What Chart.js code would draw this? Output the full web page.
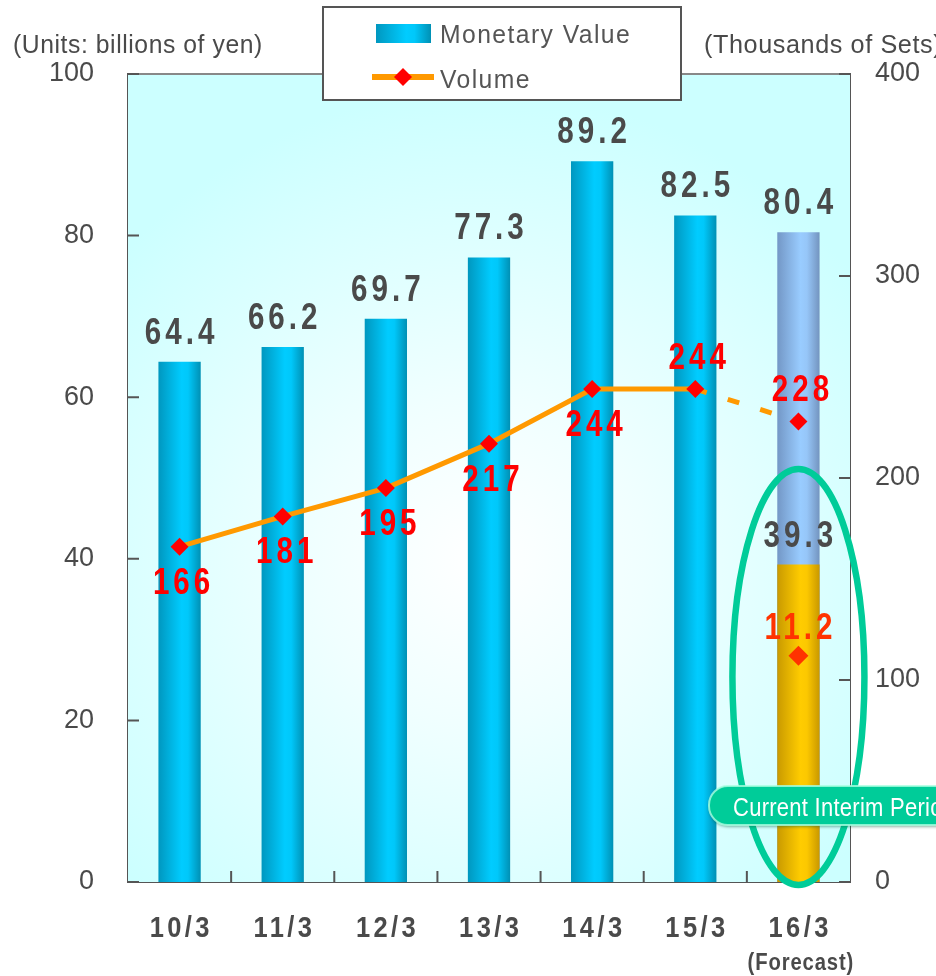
<!DOCTYPE html>
<html>
<head>
<meta charset="utf-8">
<title>Monetary Value and Volume</title>
<script src="https://cdn.jsdelivr.net/npm/chart.js@4.4.1/dist/chart.umd.min.js"></script>
<style>
  html, body { margin: 0; padding: 0; background: #fff; }
  #wrap { width: 936px; height: 976px; position: relative; }
</style>
</head>
<body>
<div id="wrap"><canvas id="chart"></canvas></div>
<script>
// Chart data
const categories = ['10/3', '11/3', '12/3', '13/3', '14/3', '15/3', '16/3'];
const monetaryValue = [64.4, 66.2, 69.7, 77.3, 89.2, 82.5, null];
const forecastValue = [null, null, null, null, null, null, 80.4];
const interimValue = [null, null, null, null, null, null, 39.3];
const volume = [166, 181, 195, 217, 244, 244, 228];
const interimVolume = [null, null, null, null, null, null, 112];
const interimVolumeLabel = '11.2';
// which side of the marker each volume label sits on
const volumeLabelSide = ['below', 'below', 'below', 'below', 'below', 'above', 'above'];
const leftTicks = [0, 20, 40, 60, 80, 100];
const rightTicks = [0, 100, 200, 300, 400];

const BAR_PCT = 0.41;
const GRAY = '#4a4a4a';
const SANS = "'Liberation Sans', Arial, sans-serif";

Chart.defaults.font.family = SANS;

// horizontal gradient across each bar
function barGradient(stops, fallback) {
  return function (ctx) {
    const chart = ctx.chart;
    const area = chart.chartArea;
    if (!area || ctx.dataIndex === undefined) return fallback;
    const cx = chart.scales.x.getPixelForValue(ctx.dataIndex);
    const w = (area.right - area.left) / categories.length * BAR_PCT;
    const g = chart.ctx.createLinearGradient(cx - w / 2, 0, cx + w / 2, 0);
    stops.forEach(function (s) { g.addColorStop(s[0], s[1]); });
    return g;
  };
}

const cyanStops = [[0, '#0097bf'], [0.55, '#00ccff'], [0.7, '#00c8fa'], [1, '#0090b4']];
const blueStops = [[0, '#7397c6'], [0.55, '#99ccff'], [0.7, '#96c6f8'], [1, '#7394bf']];
const goldStops = [[0, '#c99a00'], [0.55, '#ffcc00'], [0.7, '#fcc800'], [1, '#c99800']];

// text with letter spacing and an optional horizontal squeeze
function drawText(ctx, text, x, y, font, color, align, spacing, sx) {
  sx = sx || 1;
  spacing = spacing || 0;
  ctx.save();
  ctx.font = font;
  ctx.fillStyle = color;
  ctx.textAlign = 'left';
  ctx.textBaseline = 'alphabetic';
  ctx.letterSpacing = spacing + 'px';
  const w = (ctx.measureText(text).width - spacing) * sx;
  let left = x;
  if (align === 'center') left = x - w / 2;
  else if (align === 'right') left = x - w;
  ctx.translate(left, y);
  ctx.scale(sx, 1);
  ctx.fillText(text, 0, 0);
  ctx.restore();
}

// plot background, top border and inward tick marks
const backgroundPlugin = {
  id: 'plotBackground',
  beforeDatasetsDraw(chart) {
    const { ctx, chartArea: a, scales } = chart;
    ctx.save();
    const g = ctx.createRadialGradient(480, 560, 0, 480, 560, 470);
    g.addColorStop(0, '#ffffff');
    g.addColorStop(0.35, '#f0ffff');
    g.addColorStop(1, '#ccffff');
    ctx.fillStyle = g;
    ctx.fillRect(a.left, a.top, a.right - a.left, a.bottom - a.top);

    ctx.strokeStyle = '#888';
    ctx.lineWidth = 2;
    ctx.beginPath();
    ctx.moveTo(a.left, a.top);
    ctx.lineTo(a.right, a.top);
    ctx.stroke();

    ctx.strokeStyle = '#555';
    ctx.beginPath();
    leftTicks.forEach(function (v) {
      const y = scales.y.getPixelForValue(v);
      ctx.moveTo(a.left, y);
      ctx.lineTo(a.left + 11, y);
    });
    rightTicks.forEach(function (v) {
      const y = scales.y1.getPixelForValue(v);
      ctx.moveTo(a.right, y);
      ctx.lineTo(a.right - 11, y);
    });
    for (let i = 0; i < categories.length - 1; i++) {
      const x = (scales.x.getPixelForValue(i) + scales.x.getPixelForValue(i + 1)) / 2;
      ctx.moveTo(x, a.bottom);
      ctx.lineTo(x, a.bottom - 11);
    }
    ctx.stroke();
    ctx.restore();
  }
};

// value labels, highlight ellipse, legend and axis titles
const annotationPlugin = {
  id: 'annotations',
  afterDatasetsDraw(chart) {
    const ctx = chart.ctx;
    const big = 'bold 37px ' + SANS;
    const SQ = 0.8;

    const barMeta = chart.getDatasetMeta(0);
    monetaryValue.forEach(function (v, i) {
      if (v === null) return;
      const el = barMeta.data[i];
      drawText(ctx, v.toFixed(1), el.x, el.y - 18, big, GRAY, 'center', 5, SQ);
    });
    const fEl = chart.getDatasetMeta(1).data[6];
    drawText(ctx, forecastValue[6].toFixed(1), fEl.x, fEl.y - 18, big, GRAY, 'center', 5, SQ);
    const iEl = chart.getDatasetMeta(2).data[6];
    drawText(ctx, interimValue[6].toFixed(1), iEl.x, iEl.y - 17, big, GRAY, 'center', 5, SQ);

    const lineMeta = chart.getDatasetMeta(3);
    volume.forEach(function (v, i) {
      const p = lineMeta.data[i];
      const y = volumeLabelSide[i] === 'below' ? p.y + 47 : p.y - 20;
      drawText(ctx, String(v), p.x + 2, y, big, '#ff0000', 'center', 5, SQ);
    });
    const ip = chart.getDatasetMeta(4).data[6];
    drawText(ctx, interimVolumeLabel, ip.x, ip.y - 17, big, '#ff3300', 'center', 5, SQ);

    // highlight ellipse around the current interim bar
    ctx.save();
    ctx.strokeStyle = '#00cc99';
    ctx.lineWidth = 6.5;
    ctx.beginPath();
    ctx.ellipse(fEl.x, 677, 66, 208, 0, 0, Math.PI * 2);
    ctx.stroke();

    // "Current Interim Period" pill
    ctx.shadowColor = 'rgba(0,90,60,0.45)';
    ctx.shadowOffsetY = 2;
    ctx.shadowBlur = 3;
    ctx.fillStyle = '#00cc99';
    ctx.beginPath();
    ctx.roundRect(709, 786, 300, 39, 19);
    ctx.fill();
    ctx.shadowColor = 'transparent';
    ctx.strokeStyle = 'rgba(170,255,225,0.8)';
    ctx.lineWidth = 2;
    ctx.stroke();
    ctx.restore();
    drawText(ctx, 'Current Interim Period', 733, 816, '25px ' + SANS, '#ffffff', 'left', 0.3, 0.88);

    // forecast note under the last category
    drawText(ctx, '(Forecast)', chart.scales.x.getPixelForValue(6) + 2, 970, 'bold 23px ' + SANS, GRAY, 'center', 1, 0.88);

    // axis titles
    drawText(ctx, '(Units: billions of yen)', 13, 53, '26px ' + SANS, GRAY, 'left', 0.6, 0.95);
    drawText(ctx, '(Thousands of Sets)', 704, 53, '26px ' + SANS, GRAY, 'left', 0.6, 0.97);

    // legend box
    ctx.save();
    ctx.fillStyle = '#ffffff';
    ctx.fillRect(323, 7, 358, 93);
    ctx.strokeStyle = '#555';
    ctx.lineWidth = 2;
    ctx.strokeRect(323, 7, 358, 93);
    const lg = ctx.createLinearGradient(376, 0, 431, 0);
    cyanStops.forEach(function (s) { lg.addColorStop(s[0], s[1]); });
    ctx.fillStyle = lg;
    ctx.fillRect(376, 24, 55, 19);
    ctx.fillStyle = '#ff9900';
    ctx.fillRect(372, 74, 62, 6);
    ctx.fillStyle = '#ff0000';
    ctx.beginPath();
    ctx.moveTo(403, 68);
    ctx.lineTo(412, 77);
    ctx.lineTo(403, 86);
    ctx.lineTo(394, 77);
    ctx.closePath();
    ctx.fill();
    ctx.restore();
    drawText(ctx, 'Monetary Value', 440, 43, '26px ' + SANS, '#555', 'left', 1.5, 0.95);
    drawText(ctx, 'Volume', 440, 88, '26px ' + SANS, '#555', 'left', 1.5, 0.95);

    // category labels
    categories.forEach(function (c, i) {
      drawText(ctx, c, chart.scales.x.getPixelForValue(i), 937, 'bold 30px ' + SANS, GRAY, 'center', 4, 0.85);
    });
  }
};

const ctx = document.getElementById('chart').getContext('2d');
new Chart(ctx, {
  type: 'bar',
  data: {
    labels: categories,
    datasets: [{
      label: 'Monetary Value',
      data: monetaryValue,
      yAxisID: 'y',
      backgroundColor: barGradient(cyanStops, '#00ccff'),
      barPercentage: BAR_PCT,
      categoryPercentage: 1,
      order: 3
    }, {
      label: 'Forecast',
      data: forecastValue,
      yAxisID: 'y',
      backgroundColor: barGradient(blueStops, '#99ccff'),
      barPercentage: BAR_PCT,
      categoryPercentage: 1,
      order: 5
    }, {
      label: 'Current Interim',
      data: interimValue,
      yAxisID: 'y',
      backgroundColor: barGradient(goldStops, '#ffcc00'),
      barPercentage: BAR_PCT,
      categoryPercentage: 1,
      order: 4
    }, {
      type: 'line',
      label: 'Volume',
      data: volume,
      yAxisID: 'y1',
      borderColor: '#ff9900',
      borderWidth: 5,
      tension: 0,
      pointStyle: 'rectRot',
      pointRadius: 9,
      pointBorderWidth: 0,
      pointBackgroundColor: '#ff0000',
      segment: {
        borderDash: function (c) { return c.p1DataIndex === 6 ? [12, 22] : undefined; }
      },
      order: 2
    }, {
      type: 'line',
      label: 'Interim Volume',
      data: interimVolume,
      yAxisID: 'y1',
      showLine: false,
      pointStyle: 'rectRot',
      pointRadius: 10,
      pointBorderWidth: 0,
      pointBackgroundColor: '#ff3300',
      order: 1
    }]
  },
  options: {
    responsive: true,
    maintainAspectRatio: false,
    animation: false,
    layout: { padding: { top: 74, left: 0, right: 0, bottom: 0 } },
    plugins: {
      legend: { display: false },
      tooltip: { enabled: false }
    },
    scales: {
      x: {
        stacked: true,
        offset: true,
        grid: { display: false, drawTicks: false },
        border: { display: true, color: '#555', width: 2 },
        ticks: { display: false },
        afterFit: function (s) { s.height = 94; }
      },
      y: {
        position: 'left',
        min: 0,
        max: 100,
        grid: { display: false, drawTicks: false },
        border: { display: true, color: '#555', width: 2 },
        afterBuildTicks: function (s) { s.ticks = leftTicks.map(function (v) { return { value: v }; }); },
        ticks: { color: GRAY, padding: 34, font: { size: 27 } },
        afterFit: function (s) { s.width = 128; }
      },
      y1: {
        position: 'right',
        min: 0,
        max: 400,
        grid: { display: false, drawTicks: false },
        border: { display: true, color: '#555', width: 2 },
        afterBuildTicks: function (s) { s.ticks = rightTicks.map(function (v) { return { value: v }; }); },
        ticks: { color: GRAY, padding: 25, font: { size: 27 } },
        afterFit: function (s) { s.width = 86; }
      }
    }
  },
  plugins: [backgroundPlugin, annotationPlugin]
});
</script>
</body>
</html>
